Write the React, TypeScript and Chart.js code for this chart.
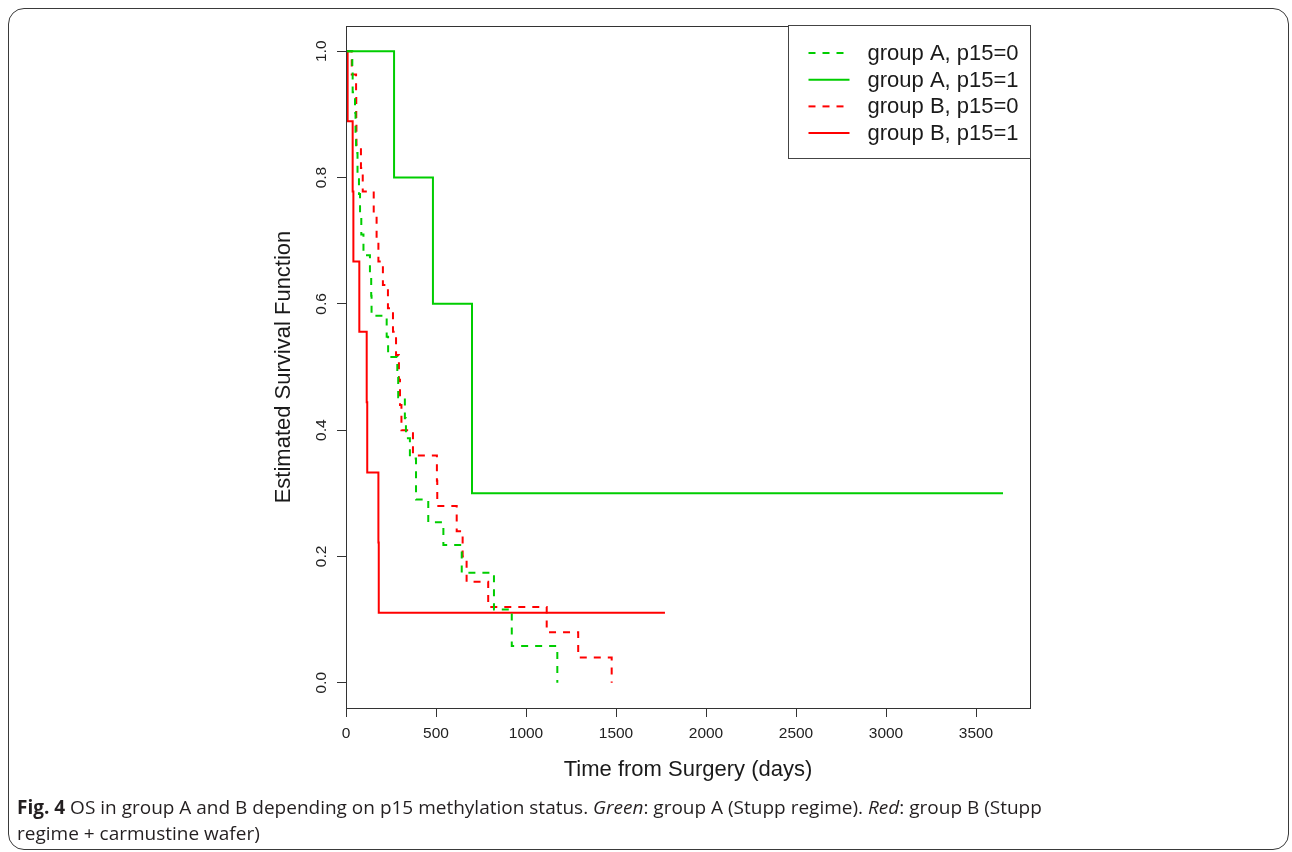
import React, { useEffect, useRef } from 'react';
import { Chart, registerables } from 'chart.js';

Chart.register(...registerables);

// ---- data (days, estimated survival) ----
const X_TICKS = [0, 500, 1000, 1500, 2000, 2500, 3000, 3500];
const Y_TICKS = [0, 0.2, 0.4, 0.6, 0.8, 1.0];

const SERIES_LABELS = ['group A, p15=0', 'group A, p15=1', 'group B, p15=0', 'group B, p15=1'];

const A0_TIMES = [0, 35, 37, 50, 53, 56, 64, 72, 78, 85, 97, 133, 140, 142, 226, 234, 285, 290, 327, 333, 355, 389, 457, 541, 643, 822, 921, 1174];
const A0_SURV = [1, 0.968, 0.935, 0.903, 0.871, 0.839, 0.806, 0.774, 0.742, 0.71, 0.677, 0.645, 0.613, 0.581, 0.548, 0.516, 0.484, 0.452, 0.419, 0.387, 0.355, 0.29, 0.254, 0.218, 0.174, 0.116, 0.058, 0];

const A1_TIMES = [0, 267, 483, 700, 3650];
const A1_SURV = [1, 0.8, 0.6, 0.3, 0.3];

const B0_TIMES = [0, 32, 56, 57, 58, 83, 93, 154, 170, 180, 205, 233, 261, 278, 294, 300, 308, 372, 505, 507, 615, 648, 670, 790, 1115, 1290, 1476];
const B0_SURV = [1, 0.963, 0.926, 0.889, 0.852, 0.815, 0.778, 0.741, 0.704, 0.667, 0.63, 0.593, 0.556, 0.519, 0.48, 0.44, 0.4, 0.36, 0.32, 0.28, 0.24, 0.2, 0.16, 0.12, 0.08, 0.04, 0];

const B1_TIMES = [0, 9, 37, 41, 74, 115, 118, 180, 182, 1772];
const B1_SURV = [1, 0.889, 0.778, 0.667, 0.556, 0.444, 0.333, 0.222, 0.111, 0.111];

const GREEN = '#00cd00';
const RED = '#ff0000';
const DASH = [7, 7];
const AXIS_COLOR = '#333333';
const FONT = '"Liberation Sans", Arial, sans-serif';

const toPoints = (t: number[], s: number[]) => t.map((x, i) => ({ x, y: s[i] }));

const SERIES = [
  { label: SERIES_LABELS[0], t: A0_TIMES, s: A0_SURV, color: GREEN, dash: DASH },
  { label: SERIES_LABELS[1], t: A1_TIMES, s: A1_SURV, color: GREEN, dash: [] as number[] },
  { label: SERIES_LABELS[2], t: B0_TIMES, s: B0_SURV, color: RED, dash: DASH },
  { label: SERIES_LABELS[3], t: B1_TIMES, s: B1_SURV, color: RED, dash: [] as number[] },
];

const boxPlugin = {
  id: 'boxFrame',
  afterDatasetsDraw(chart: any) {
    const { ctx, chartArea } = chart;
    ctx.save();
    ctx.strokeStyle = AXIS_COLOR;
    ctx.lineWidth = 1;
    ctx.strokeRect(
      Math.round(chartArea.left) + 0.5,
      Math.round(chartArea.top) + 0.5,
      Math.round(chartArea.right - chartArea.left),
      Math.round(chartArea.bottom - chartArea.top)
    );
    ctx.restore();
  },
};

const legendPlugin = {
  id: 'kmLegend',
  afterDraw(chart: any) {
    const { ctx, chartArea } = chart;
    const boxW = 242;
    const boxH = 133;
    const x0 = Math.round(chartArea.right - boxW) + 0.5;
    const y0 = Math.round(chartArea.top - 1) + 0.5;
    ctx.save();
    ctx.fillStyle = '#ffffff';
    ctx.fillRect(x0, y0, boxW, boxH);
    ctx.strokeStyle = '#444444';
    ctx.lineWidth = 1;
    ctx.strokeRect(x0, y0, boxW, boxH);
    ctx.font = `22px ${FONT}`;
    ctx.textBaseline = 'middle';
    ctx.textAlign = 'left';
    SERIES.forEach((s, i) => {
      const y = y0 + 27.5 + i * 26.7;
      ctx.strokeStyle = s.color;
      ctx.lineWidth = 2;
      ctx.setLineDash(s.dash);
      ctx.beginPath();
      ctx.moveTo(x0 + 20, y);
      ctx.lineTo(x0 + 61, y);
      ctx.stroke();
      ctx.setLineDash([]);
      ctx.fillStyle = '#1a1a1a';
      ctx.fillText(s.label, x0 + 79, y + 1);
    });
    ctx.restore();
  },
};

function KMChart() {
  const ref = useRef<HTMLCanvasElement | null>(null);
  useEffect(() => {
    if (!ref.current) return;
    const chart = new Chart(ref.current, {
      type: 'line',
      data: {
        datasets: SERIES.map((s) => ({
          label: s.label,
          data: toPoints(s.t, s.s),
          borderColor: s.color,
          backgroundColor: s.color,
          borderWidth: 2,
          borderDash: s.dash,
          stepped: 'before' as const,
          pointRadius: 0,
          fill: false,
          tension: 0,
        })),
      },
      options: {
        responsive: false,
        animation: false,
        devicePixelRatio: 1,
        layout: { padding: { top: 26, right: 262, left: 0, bottom: 0 } },
        plugins: {
          legend: { display: false },
          tooltip: { enabled: false },
        },
        scales: {
          x: {
            type: 'linear',
            min: 0,
            max: 3800,
            afterBuildTicks: (scale: any) => {
              scale.ticks = X_TICKS.map((v) => ({ value: v }));
            },
            afterFit: (scale: any) => {
              scale.height = 144;
            },
            ticks: {
              font: { family: FONT, size: 15.5 },
              color: '#222',
              padding: 7,
              maxRotation: 0,
              autoSkip: false,
              callback: (v: any) => String(v),
            },
            grid: {
              display: true,
              drawOnChartArea: false,
              drawTicks: true,
              tickLength: 9,
              color: AXIS_COLOR,
            },
            border: { display: true, color: AXIS_COLOR, width: 1 },
            title: {
              display: true,
              text: 'Time from Surgery (days)',
              font: { family: FONT, size: 22 },
              color: '#1a1a1a',
              padding: { top: 0, bottom: 68.8 },
            },
          },
          y: {
            type: 'linear',
            min: -0.04,
            max: 1.04,
            afterBuildTicks: (scale: any) => {
              scale.ticks = Y_TICKS.map((v) => ({ value: v }));
            },
            afterFit: (scale: any) => {
              scale.width = 346;
            },
            ticks: {
              font: { family: FONT, size: 15.5 },
              color: '#222',
              padding: 5,
              minRotation: 90,
              maxRotation: 90,
              crossAlign: 'center',
              autoSkip: false,
              callback: (v: any) => Number(v).toFixed(1),
            },
            grid: {
              display: true,
              drawOnChartArea: false,
              drawTicks: true,
              tickLength: 9,
              color: AXIS_COLOR,
            },
            border: { display: true, color: AXIS_COLOR, width: 1 },
            title: {
              display: true,
              text: 'Estimated Survival Function',
              font: { family: FONT, size: 22 },
              color: '#1a1a1a',
              padding: { top: 270.8, bottom: 0 },
            },
          },
        },
      },
      plugins: [boxPlugin, legendPlugin],
    } as any);
    return () => chart.destroy();
  }, []);
  return <canvas ref={ref} width={1292} height={852} style={{ position: 'absolute', left: 0, top: 0, width: 1292, height: 852 }} />;
}

export default function App() {
  return (
    <div style={{ position: 'fixed', left: 0, top: 0, width: 1292, height: 852, background: '#fff', overflow: 'hidden' }}>
      <div
        style={{
          position: 'absolute',
          left: 8,
          top: 8,
          width: 1281,
          height: 842,
          border: '1.5px solid #3a3a3a',
          borderRadius: 16,
          boxSizing: 'border-box',
        }}
      />
      <KMChart />
      <div
        style={{
          position: 'absolute',
          left: 17,
          top: 794,
          fontFamily: '"Open Sans", sans-serif',
          fontSize: 19,
          lineHeight: '26px',
          color: '#231f20',
          whiteSpace: 'nowrap',
        }}
      >
        <b>Fig. 4</b> OS in group A and B depending on p15 methylation status. <i>Green</i>: group A (Stupp regime). <i>Red</i>: group B (Stupp
        <br />
        regime + carmustine wafer)
      </div>
    </div>
  );
}
